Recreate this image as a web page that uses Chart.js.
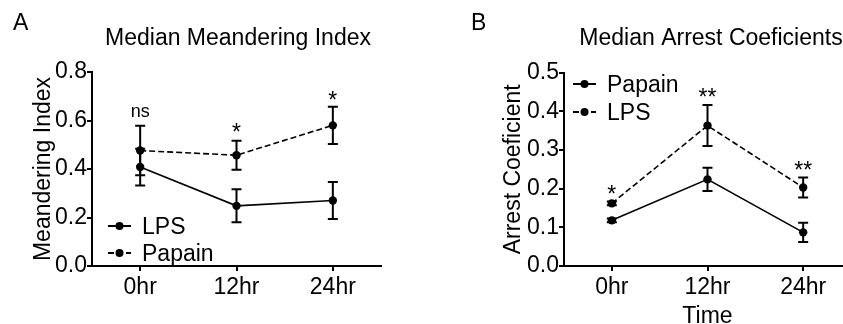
<!DOCTYPE html>
<html><head><meta charset="utf-8">
<script src="https://cdn.jsdelivr.net/npm/chart.js@4"></script>
<style>
html,body{margin:0;padding:0;background:#fff;overflow:hidden;width:843px;height:324px}
#a{position:absolute;left:0;top:0;width:421px;height:324px}
#b{position:absolute;left:421px;top:0;width:440px;height:324px}
</style></head><body>
<div id="a"><canvas id="ca"></canvas></div>
<div id="b"><canvas id="cb"></canvas></div>
<script>
// ---------- data ----------
const timepoints = ['0hr', '12hr', '24hr'];

// Panel A: Median Meandering Index
const meanderLPS = [0.408, 0.248, 0.270];
const meanderLPSErr = [0.076, 0.068, 0.076];
const meanderPapain = [0.476, 0.457, 0.580];
const meanderPapainErr = [0.102, 0.060, 0.077];
const meanderSig = ['ns', '*', '*'];
const meanderSigY = [0.635, 0.575, 0.705];
const meanderTicks = [0.0, 0.2, 0.4, 0.6, 0.8];

// Panel B: Median Arrest Coeficients
const arrestPapain = [0.118, 0.224, 0.087];
const arrestPapainErr = [0.005, 0.030, 0.025];
const arrestLPS = [0.162, 0.363, 0.203];
const arrestLPSErr = [0.005, 0.053, 0.026];
const arrestSig = ['*', '**', '**'];
const arrestSigY = [0.199, 0.450, 0.261];
const arrestTicks = [0.0, 0.1, 0.2, 0.3, 0.4, 0.5];

// ---------- styling ----------
const FONT = "'Liberation Sans', Arial, Helvetica, sans-serif";
Chart.defaults.font.family = FONT;
Chart.defaults.color = '#000';

const errorBars = {
  id: 'errorBars',
  afterDatasetsDraw(chart) {
    const ctx = chart.ctx, ys = chart.scales.y;
    chart.data.datasets.forEach((ds, i) => {
      const meta = chart.getDatasetMeta(i);
      meta.data.forEach((pt, j) => {
        const v = ds.data[j], e = ds.errors[j];
        const t = ys.getPixelForValue(v + e), b = ys.getPixelForValue(v - e);
        ctx.save();
        ctx.strokeStyle = '#000'; ctx.lineWidth = 2;
        ctx.beginPath();
        ctx.moveTo(pt.x, t); ctx.lineTo(pt.x, b);
        ctx.moveTo(pt.x - 5, t); ctx.lineTo(pt.x + 5, t);
        ctx.moveTo(pt.x - 5, b); ctx.lineTo(pt.x + 5, b);
        ctx.stroke();
        ctx.restore();
      });
    });
  }
};

const decor = {
  id: 'decor',
  afterDraw(chart, args, o) {
    const ctx = chart.ctx;
    ctx.save();
    ctx.fillStyle = '#000';
    ctx.font = `23px ${FONT}`;
    ctx.textAlign = 'left'; ctx.textBaseline = 'alphabetic';
    ctx.fillText(o.letter, o.letterX, o.letterY);
    ctx.textAlign = 'center';
    ctx.fillText(o.title, o.titleX, o.titleY);
    // legend
    o.legendOrder.forEach((di, k) => {
      const ds = chart.data.datasets[di];
      const y = o.legendY[k];
      ctx.strokeStyle = '#000'; ctx.lineWidth = 2;
      ctx.setLineDash(ds.borderDash || []);
      ctx.beginPath(); ctx.moveTo(o.legendX, y); ctx.lineTo(o.legendX + 23, y); ctx.stroke();
      ctx.setLineDash([]);
      ctx.beginPath(); ctx.arc(o.legendX + 11.5, y, 4, 0, Math.PI * 2); ctx.fill();
      ctx.textAlign = 'left'; ctx.textBaseline = 'alphabetic';
      ctx.font = `23px ${FONT}`;
      ctx.fillText(ds.label, o.legendX + 34, y + 8);
    });
    // significance marks
    const xs = chart.scales.x, ys = chart.scales.y;
    o.marks.forEach((m, i) => {
      const x = xs.getPixelForValue(i), y = ys.getPixelForValue(o.markY[i]);
      ctx.textAlign = 'center'; ctx.textBaseline = 'alphabetic';
      if (m === 'ns') { ctx.font = `18px ${FONT}`; ctx.fillText(m, x, y + 4.7); }
      else { ctx.font = `23px ${FONT}`; ctx.fillText(m, x, y + 13); }
    });
    ctx.restore();
  }
};

function makeScales(ticksArr, yTitle, yTitlePad, yWidth, xTitle) {
  return {
    x: {
      type: 'category', offset: true,
      grid: { display: true, drawOnChartArea: false, drawTicks: true, tickLength: 5, color: '#000', lineWidth: 2 },
      border: { display: true, color: '#000', width: 2 },
      ticks: { font: { size: 23 }, color: '#000', padding: 3, maxRotation: 0 },
      title: xTitle ? { display: true, text: xTitle, font: { size: 23 }, color: '#000', padding: { top: 0, bottom: -6.3 } } : { display: false },
      afterFit(s) { s.height = 58; }
    },
    y: {
      min: ticksArr[0], max: ticksArr[ticksArr.length - 1],
      grid: { display: true, drawOnChartArea: false, drawTicks: true, tickLength: 5, color: '#000', lineWidth: 2 },
      border: { display: true, color: '#000', width: 2 },
      ticks: { font: { size: 23 }, color: '#000', padding: 0, callback: v => Number(v).toFixed(1) },
      afterBuildTicks(s) { s.ticks = ticksArr.map(v => ({ value: v })); },
      title: { display: true, text: yTitle, font: { size: 23 }, color: '#000', padding: { top: yTitlePad, bottom: 0 } },
      afterFit(s) { s.width = yWidth; }
    }
  };
}

function ds(label, data, errors, dashed) {
  return {
    label, data, errors,
    borderColor: '#000', backgroundColor: '#000', borderWidth: 1.6,
    borderDash: dashed ? [6, 3] : [],
    pointRadius: 4.2, pointHoverRadius: 4.2, pointBackgroundColor: '#000', pointBorderColor: '#000', pointBorderWidth: 0,
    tension: 0, fill: false
  };
}

new Chart(document.getElementById('ca'), {
  type: 'line',
  data: {
    labels: timepoints,
    datasets: [
      ds('LPS', meanderLPS, meanderLPSErr, false),
      ds('Papain', meanderPapain, meanderPapainErr, true)
    ]
  },
  options: {
    responsive: true, maintainAspectRatio: false, animation: false,
    layout: { padding: { left: 0, right: 40, top: 72, bottom: 0 }, autoPadding: false },
    plugins: {
      legend: { display: false }, tooltip: { enabled: false },
      decor: { letter: 'A', letterX: 13, letterY: 30, title: 'Median Meandering Index', titleX: 238, titleY: 45,
               legendOrder: [0, 1], legendX: 108, legendY: [226, 253], marks: meanderSig, markY: meanderSigY }
    },
    scales: makeScales(meanderTicks, 'Meandering Index', 30, 92, null)
  },
  plugins: [errorBars, decor]
});

new Chart(document.getElementById('cb'), {
  type: 'line',
  data: {
    labels: timepoints,
    datasets: [
      ds('Papain', arrestPapain, arrestPapainErr, false),
      ds('LPS', arrestLPS, arrestLPSErr, true)
    ]
  },
  options: {
    responsive: true, maintainAspectRatio: false, animation: false,
    layout: { padding: { left: 0, right: 10, top: 72.6, bottom: 0 }, autoPadding: false },
    plugins: {
      legend: { display: false }, tooltip: { enabled: false },
      decor: { letter: 'B', letterX: 50, letterY: 30, title: 'Median Arrest Coeficients', titleX: 290, titleY: 45,
               legendOrder: [0, 1], legendX: 152, legendY: [84, 112], marks: arrestSig, markY: arrestSigY }
    },
    scales: makeScales(arrestTicks, 'Arrest Coeficient', 79, 143, 'Time')
  },
  plugins: [errorBars, decor]
});
</script>
</body></html>
